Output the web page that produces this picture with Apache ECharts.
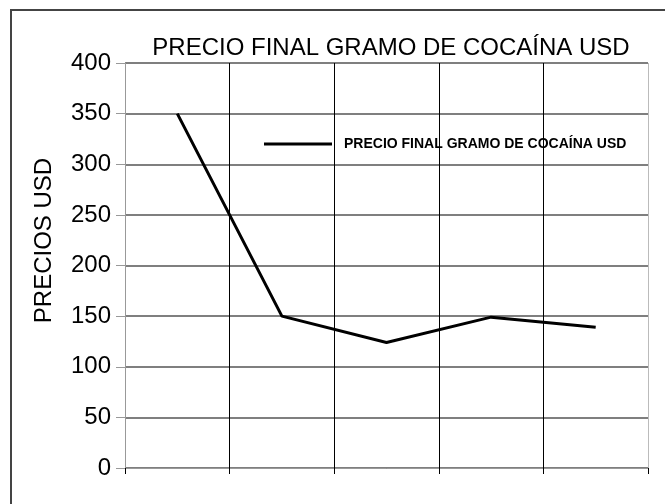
<!DOCTYPE html>
<html lang="es">
<head>
    <meta charset="UTF-8">
    <title>Precio final gramo de cocaína</title>
    <style>
        html, body {
            margin: 0;
            padding: 0;
            background: #fff;
        }

        #chart1 {
            width: 665px;
            height: 504px;
        }
    </style>
</head>
<body>
<div id="chart1"></div>
<script src="https://cdn.jsdelivr.net/npm/echarts@6/dist/echarts.min.js"></script>
<script type="text/javascript">
    // datos
    var categorias = ['1', '2', '3', '4', '5'];
    var precios = [350, 150, 124, 149, 139];
    var nombreSerie = 'PRECIO FINAL GRAMO DE COCAÍNA USD';

    var chart1 = echarts.init(document.getElementById('chart1'));

    chart1.setOption({
        animation: false,
        textStyle: {fontFamily: 'Liberation Sans, Arial, sans-serif'},
        title: {
            text: 'PRECIO FINAL GRAMO DE COCAÍNA USD',
            left: 386,
            textAlign: 'center',
            top: 31,
            textStyle: {
                fontSize: 24,
                fontWeight: 'normal',
                color: '#000'
            }
        },
        legend: {
            left: 259,
            top: 132,
            icon: 'rect',
            itemWidth: 68,
            itemHeight: 3,
            textStyle: {
                fontWeight: 'bold',
                fontSize: 14,
                color: '#000',
                padding: [0, 0, 0, 7]
            },
            data: [nombreSerie]
        },
        graphic: [{
            type: 'rect',
            shape: {x: 11, y: 10, width: 700, height: 600},
            style: {fill: 'none', stroke: '#444', lineWidth: 2},
            z: -1
        }],
        grid: {
            left: 125,
            right: 17,
            top: 63,
            bottom: 36
        },
        xAxis: {
            type: 'category',
            data: categorias,
            boundaryGap: true,
            axisLine: {lineStyle: {color: '#999', width: 1}},
            axisTick: {show: true, length: 6, lineStyle: {color: '#000'}},
            axisLabel: {show: false},
            splitLine: {
                show: true,
                lineStyle: {color: ['#999', '#000', '#000', '#000', '#000', '#bbb'], width: 1}
            }
        },
        yAxis: {
            type: 'value',
            name: 'PRECIOS USD',
            nameLocation: 'middle',
            nameGap: 69,
            nameTextStyle: {fontSize: 24, color: '#000', padding: [0, 0, 0, 50]},
            min: 0,
            max: 400,
            interval: 50,
            axisLine: {show: true, lineStyle: {color: '#999'}},
            axisTick: {show: true, length: 9, lineStyle: {color: '#999'}},
            axisLabel: {fontSize: 24, color: '#000', margin: 14},
            splitLine: {lineStyle: {color: '#555', width: 1.5}}
        },
        series: [{
            name: nombreSerie,
            type: 'line',
            data: precios,
            showSymbol: false,
            symbol: 'none',
            lineStyle: {color: '#000', width: 3},
            itemStyle: {color: '#000'}
        }]
    }, true);
</script>
</body>
</html>
